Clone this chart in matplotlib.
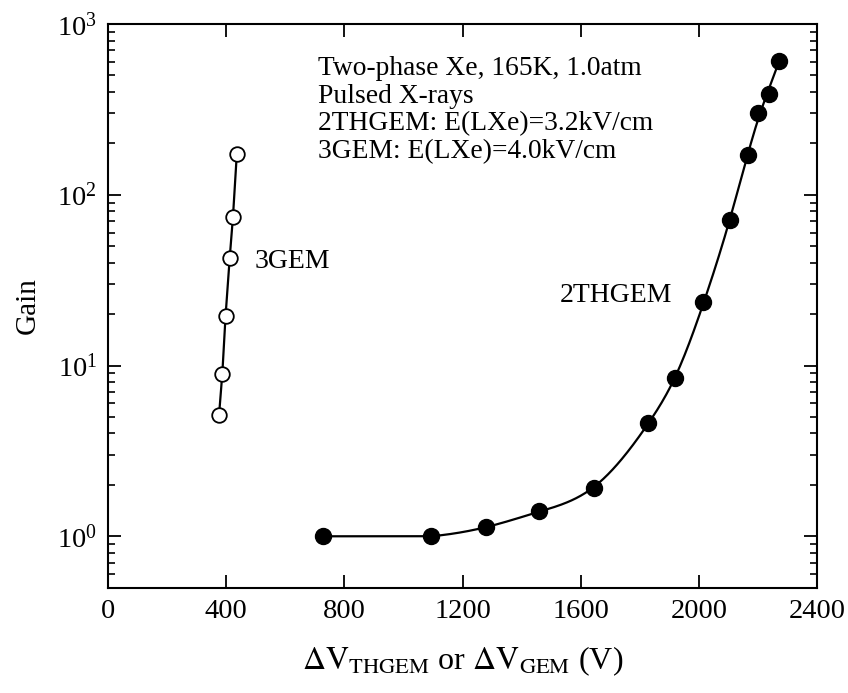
import numpy as np
import matplotlib
matplotlib.use("Agg")
import matplotlib.pyplot as plt
from matplotlib.ticker import LogLocator, FixedLocator, NullFormatter

# ---- data ----
thgem_v = [729, 1094, 1279, 1460, 1644, 1827, 1921, 2015, 2107, 2166, 2199, 2236, 2273]
thgem_gain = [1.0, 1.0, 1.13, 1.40, 1.93, 4.6, 8.45, 23.4, 71.3, 170, 302, 391, 608]

gem_v = [376, 387, 398, 412, 423, 436]
gem_gain = [5.16, 8.98, 19.6, 42.7, 74.3, 173]

xticks = [0, 400, 800, 1200, 1600, 2000, 2400]
info_lines = ["Two-phase Xe, 165K, 1.0atm", "Pulsed X-rays",
              "2THGEM: E(LXe)=3.2kV/cm", "3GEM: E(LXe)=4.0kV/cm"]

plt.rcParams['font.family'] = ['Liberation Serif', 'DejaVu Serif']
plt.rcParams['mathtext.fontset'] = 'stix'


def smooth_fit(x, y, xn, lam):
    """Penalised (smoothing-spline like) fit evaluated on the grid xn."""
    x = np.asarray(x, float); y = np.asarray(y, float)
    n = len(xn); h = xn[1] - xn[0]
    A = np.zeros((len(x), n))
    for i, xi in enumerate(x):
        j = int(np.clip(np.searchsorted(xn, xi) - 1, 0, n - 2))
        t = (xi - xn[j]) / h
        A[i, j] = 1 - t; A[i, j + 1] = t
    D = np.diff(np.eye(n), 2, axis=0) / h**2
    M = A.T @ A + lam * h * (D.T @ D)
    return np.linalg.solve(M, A.T @ y)


fig = plt.figure(figsize=(8.48, 6.93), dpi=100)
ax = fig.add_axes([108 / 848, 1 - 587.7 / 693, 709 / 848, 563.7 / 693])

xs = np.linspace(thgem_v[0], thgem_v[-1], 400)
ys = 10 ** smooth_fit(thgem_v, np.log10(thgem_gain), xs, lam=3e4)
ys = np.maximum(ys, min(thgem_gain))  # gain plateau at unity
ax.plot(xs, ys, color='black', lw=1.6, zorder=2)
ax.plot(thgem_v, thgem_gain, 'o', color='black', ms=11.5, zorder=3)

ax.plot(gem_v, gem_gain, '-', color='black', lw=1.6, zorder=2)
ax.plot(gem_v, gem_gain, 'o', mfc='white', mec='black', mew=1.3, ms=10.5, zorder=3)

ax.set_yscale('log')
ax.set_xlim(0, 2400)
ax.set_ylim(0.5, 1000)
ax.xaxis.set_major_locator(FixedLocator(xticks))
ax.set_xticklabels([str(t) for t in xticks])
ax.yaxis.set_major_locator(LogLocator(base=10, numticks=10))
ax.yaxis.set_minor_locator(LogLocator(base=10, subs=np.arange(2, 10), numticks=20))
ax.yaxis.set_minor_formatter(NullFormatter())

for s in ax.spines.values():
    s.set_linewidth(1.5)
ax.tick_params(which='major', direction='in', length=9.5, width=1.3,
               top=True, right=True, labelsize=20.5, pad=8)
ax.tick_params(which='minor', direction='in', length=5, width=1.2,
               left=True, right=True)
ax.tick_params(axis='x', which='minor', bottom=False, top=False)

ax.set_ylabel('Gain', fontsize=21, labelpad=12)
ax.set_xlabel(r'$\Delta\mathrm{V}_{\mathrm{THGEM}}$ or $\Delta\mathrm{V}_{\mathrm{GEM}}$ (V)',
              fontsize=23, labelpad=15)

for i, line in enumerate(info_lines):
    ax.text((318 - 108) / 709, (587.7 - (75 + 27.7 * i)) / 563.7, line,
            transform=ax.transAxes, fontsize=19.8, ha='left', va='baseline')

ax.text((255 - 108) / 709, (587.7 - 261.7) / 563.7, '3GEM', transform=ax.transAxes,
        fontsize=20, ha='left', va='center')
ax.text((560 - 108) / 709, (587.7 - 295) / 563.7, '2THGEM', transform=ax.transAxes,
        fontsize=20, ha='left', va='center')

fig.savefig('out.png', dpi=100)
